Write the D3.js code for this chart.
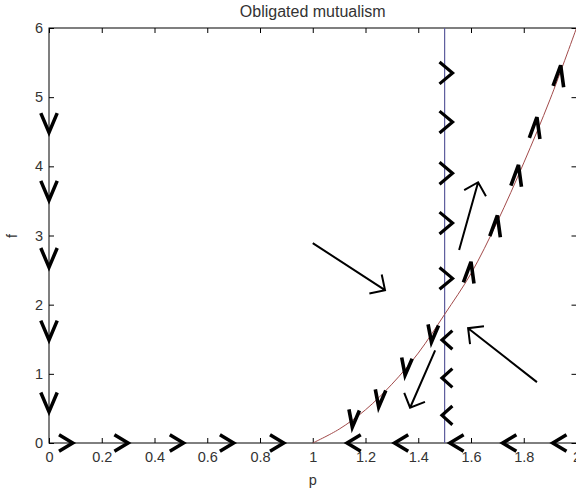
<!DOCTYPE html>
<html>
<head>
<meta charset="utf-8">
<script src="https://cdn.jsdelivr.net/npm/d3@7"></script>
<style>
  html, body { margin: 0; padding: 0; background: #fff; }
  svg { display: block; font-family: "Liberation Sans", Arial, sans-serif; }
</style>
</head>
<body>
<div id="chart"></div>
<script>
// tick values
const xTicks = [0, 0.2, 0.4, 0.6, 0.8, 1, 1.2, 1.4, 1.6, 1.8, 2];
const yTicks = [0, 1, 2, 3, 4, 5, 6];

// nullcline (red)
const curveP = [1.0, 1.1, 1.2, 1.3, 1.4, 1.5, 1.6, 1.7, 1.8, 1.9, 2.0];
const curveF = [0, 0.2, 0.48, 0.85, 1.3, 1.86, 2.45, 3.2, 4.05, 4.97, 6.0];
const verticalP = 1.5;

// small direction markers (tip positions)
const axisRightP = [0.09, 0.30, 0.51, 0.70, 0.89];
const axisLeftP = [1.13, 1.31, 1.52, 1.72, 1.91];
const axisDownF = [4.49, 3.51, 2.54, 1.49, 0.45];
const lineRightF = [5.35, 4.64, 3.90, 3.18, 2.38];
const lineLeftF = [1.49, 0.94, 0.40];
// [p, f, dp, df]
const curveDown = [[1.15, 0.23, -1, -35], [1.25, 0.52, -1, -35], [1.35, 0.98, -1, -35], [1.45, 1.46, -1, -35]];
const curveUp = [[1.60, 2.62, 1, 35], [1.70, 3.29, 1, 35], [1.78, 4.02, 1, 35], [1.85, 4.71, 1, 35], [1.94, 5.46, 1, 35]];

// long arrows [tailP, tailF, tipP, tipF]
const bigArrows = [
  [1.00, 2.89, 1.274, 2.21],
  [1.85, 0.88, 1.589, 1.66],
  [1.555, 2.79, 1.627, 3.77],
  [1.464, 1.34, 1.369, 0.51]
];

const width = 576, height = 498;
const plotL = 49, plotR = 576.5, plotT = 28, plotB = 443;

const svg = d3.select('#chart').append('svg')
  .attr('width', width)
  .attr('height', height);

svg.append('rect').attr('width', width).attr('height', height).attr('fill', '#fff');

const x = d3.scaleLinear().domain([0, 2]).range([plotL, plotR]);
const y = d3.scaleLinear().domain([0, 6]).range([plotB, plotT]);

// axes, ticks pointing inward
const fmt = d3.format('~g');
const gx = svg.append('g')
  .attr('transform', `translate(0,${plotB})`)
  .call(d3.axisBottom(x).tickValues(xTicks).tickFormat(fmt).tickSizeInner(-5).tickSizeOuter(0).tickPadding(9));
const gy = svg.append('g')
  .attr('transform', `translate(${plotL},0)`)
  .call(d3.axisLeft(y).tickValues(yTicks).tickFormat(fmt).tickSizeInner(-5).tickSizeOuter(0).tickPadding(6));
const gt = svg.append('g')
  .attr('transform', `translate(0,${plotT})`)
  .call(d3.axisTop(x).tickValues(xTicks).tickFormat('').tickSizeInner(-5).tickSizeOuter(0));
const gr = svg.append('g')
  .attr('transform', `translate(${plotR},0)`)
  .call(d3.axisRight(y).tickValues(yTicks).tickFormat('').tickSizeInner(-5).tickSizeOuter(0));

[gx, gy, gt, gr].forEach(g => {
  g.select('.domain').remove();
  g.selectAll('line').attr('stroke', '#000');
  g.selectAll('text')
    .attr('fill', '#333')
    .style('font-size', '14.5px')
    .style('font-family', '"Liberation Sans", Arial, sans-serif');
});

svg.append('rect')
  .attr('x', plotL).attr('y', plotT)
  .attr('width', plotR - plotL).attr('height', plotB - plotT)
  .attr('fill', 'none')
  .attr('stroke', '#000')
  .attr('stroke-width', 1);

// title and labels
svg.append('text')
  .attr('x', (plotL + plotR) / 2).attr('y', 17)
  .attr('text-anchor', 'middle')
  .attr('fill', '#333')
  .style('font-size', '16px')
  .text('Obligated mutualism');

svg.append('text')
  .attr('x', (plotL + plotR) / 2).attr('y', 485)
  .attr('text-anchor', 'middle')
  .attr('fill', '#333')
  .style('font-size', '14.5px')
  .text('p');

svg.append('text')
  .attr('transform', `translate(17,236) rotate(-90)`)
  .attr('text-anchor', 'middle')
  .attr('fill', '#333')
  .style('font-size', '14.5px')
  .text('f');

// vertical nullcline
svg.append('line')
  .attr('x1', x(verticalP)).attr('x2', x(verticalP))
  .attr('y1', y(0)).attr('y2', y(6))
  .attr('stroke', '#5c5c9c')
  .attr('stroke-width', 1.2);

// curved nullcline
const curveData = curveP.map((p, i) => [p, curveF[i]]);
svg.append('path')
  .datum(curveData)
  .attr('d', d3.line().x(d => x(d[0])).y(d => y(d[1])).curve(d3.curveCatmullRom))
  .attr('fill', 'none')
  .attr('stroke', '#a24a4a')
  .attr('stroke-width', 1);

// chevron markers
const marks = svg.append('g')
  .attr('fill', 'none')
  .attr('stroke', '#000')
  .attr('stroke-linejoin', 'miter');

function chevron(p, f, dp, df, len, half, sw) {
  const tx = x(p), ty = y(f);
  // direction in pixel space
  const vx = x(p + dp * 0.01) - tx, vy = y(f + df * 0.01) - ty;
  const a = Math.atan2(-vy, -vx);
  const h = half * Math.PI / 180;
  const p1 = [tx + len * Math.cos(a + h), ty + len * Math.sin(a + h)];
  const p2 = [tx + len * Math.cos(a - h), ty + len * Math.sin(a - h)];
  marks.append('path')
    .attr('d', `M${p1[0]},${p1[1]}L${tx},${ty}L${p2[0]},${p2[1]}`)
    .attr('stroke-width', sw);
}

axisRightP.forEach(p => chevron(p, 0, 1, 0, 16, 31, 3.5));
axisLeftP.forEach(p => chevron(p, 0, -1, 0, 16, 31, 3.5));
axisDownF.forEach(f => chevron(0, f, 0, -1, 21, 23, 3.5));
lineRightF.forEach(f => chevron(1.53, f, 1, 0, 17, 40, 3.2));
lineLeftF.forEach(f => chevron(1.49, f, -1, 0, 14, 42, 3.2));
curveDown.forEach(d => chevron(d[0], d[1], d[2], d[3], 18, 17, 3.6));
curveUp.forEach(d => chevron(d[0], d[1], d[2], d[3], 22, 14, 3.6));

// long arrows
bigArrows.forEach(d => {
  const x0 = x(d[0]), y0 = y(d[1]), x1 = x(d[2]), y1 = y(d[3]);
  const a = Math.atan2(y0 - y1, x0 - x1);
  const h = 45 * Math.PI / 180, len = 16;
  marks.append('path')
    .attr('d', `M${x0},${y0}L${x1},${y1}` +
      `M${x1 + len * Math.cos(a + h)},${y1 + len * Math.sin(a + h)}L${x1},${y1}` +
      `L${x1 + len * Math.cos(a - h)},${y1 + len * Math.sin(a - h)}`)
    .attr('stroke-width', 2);
});
</script>
</body>
</html>
